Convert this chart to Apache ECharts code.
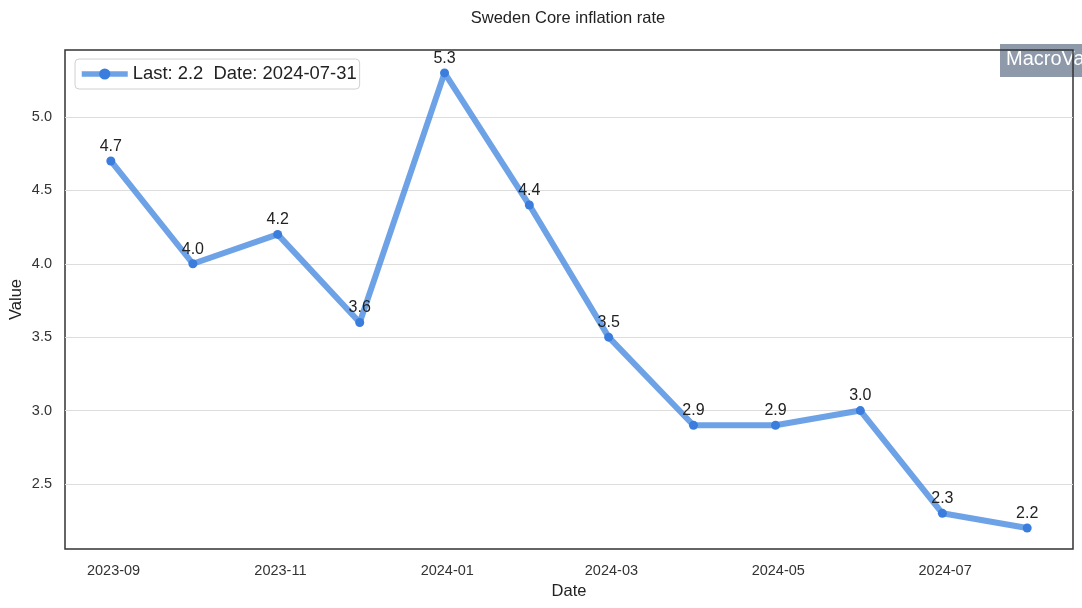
<!DOCTYPE html>
<html>
<head>
<meta charset="utf-8">
<script src="https://cdn.jsdelivr.net/npm/echarts@6/dist/echarts.min.js"></script>
<style>html,body{margin:0;padding:0;background:#fff}#c{width:1082px;height:608px}</style>
</head>
<body>
<div id="c"></div>
<script>
var dates = ['2023-08-31','2023-09-30','2023-10-31','2023-11-30','2023-12-31','2024-01-31','2024-02-29','2024-03-31','2024-04-30','2024-05-31','2024-06-30','2024-07-31'];
var values = [4.7, 4.0, 4.2, 3.6, 5.3, 4.4, 3.5, 2.9, 2.9, 3.0, 2.3, 2.2];
var xTicks = ['2023-09-01','2023-11-01','2024-01-01','2024-03-01','2024-05-01','2024-07-01'];
var yTicks = [2.5, 3.0, 3.5, 4.0, 4.5, 5.0];

function ts(s){ var p = s.split('-'); return Date.UTC(+p[0], +p[1]-1, +p[2]); }
function pad(n){ return (n<10?'0':'')+n; }

var font = 'Liberation Sans, Arial, sans-serif';
var chart = echarts.init(document.getElementById('c'));
var xMin = ts('2023-08-31') - 16.75*86400000;
var xMax = ts('2024-07-31') + 16.75*86400000;

chart.setOption({
  animation: false,
  title: {
    text: 'Sweden Core inflation rate',
    left: 563, top: 5, textAlign: 'center',
    textStyle: {fontFamily: font, fontSize: 16.5, fontWeight: 'normal', color: '#222'}
  },
  legend: {
    left: 75, top: 59,
    padding: [6, 3, 6, 4],
    itemWidth: 46, itemHeight: 14, itemGap: 6,
    borderColor: '#d0d0d0', borderWidth: 1, borderRadius: 4,
    lineStyle: {width: 5.5},
    textStyle: {fontFamily: font, fontSize: 18.4, color: '#222'}
  },
  grid: {
    left: 65, right: 9, top: 50, bottom: 59,
    outerBoundsMode: 'none', containLabel: false,
    show: true, borderColor: '#333', borderWidth: 1.5, backgroundColor: 'transparent'
  },
  xAxis: {
    type: 'value', min: xMin, max: xMax,
    name: 'Date', nameLocation: 'middle', nameGap: 34,
    nameTextStyle: {fontFamily: font, fontSize: 16.5, color: '#222'},
    axisLine: {show: false}, axisTick: {show: false, customValues: xTicks.map(ts)}, splitLine: {show: false},
    axisLabel: {
      customValues: xTicks.map(ts),
      fontFamily: font, fontSize: 14.5, color: '#333', margin: 14,
      formatter: function(v){ var d = new Date(v); return d.getUTCFullYear() + '-' + pad(d.getUTCMonth()+1); }
    }
  },
  yAxis: {
    type: 'value', min: 2.057, max: 5.456,
    name: 'Value', nameLocation: 'middle', nameGap: 40, nameRotate: 90,
    nameMoveOverlap: false,
    nameTextStyle: {fontFamily: font, fontSize: 16.5, color: '#222'},
    axisLine: {show: false},
    axisTick: {show: false, customValues: yTicks},
    splitLine: {show: false},
    axisLabel: {
      customValues: yTicks,
      fontFamily: font, fontSize: 14.5, color: '#333', margin: 13,
      formatter: function(v){ return v.toFixed(1); }
    }
  },
  series: [{
    name: 'Last: ' + values[values.length-1].toFixed(1) + '  Date: ' + dates[dates.length-1],
    type: 'line',
    data: dates.map(function(d, i){ return [ts(d), values[i]]; }),
    symbol: 'circle', symbolSize: 9,
    lineStyle: {color: 'rgba(74,139,224,0.8)', width: 6},
    itemStyle: {color: '#3b7ddd'},
    label: {
      show: true, position: 'top', distance: 2,
      fontFamily: font, fontSize: 16, color: '#222',
      formatter: function(p){ return p.value[1].toFixed(1); }
    },
    markLine: {
      silent: true, symbol: 'none', label: {show: false},
      lineStyle: {color: '#dddddd', width: 1, type: 'solid'},
      data: yTicks.map(function(v){ return {yAxis: v}; }),
      z: 0
    },
    z: 3
  }],
  graphic: [{
    type: 'rect', left: 1000, top: 44, z: -1,
    shape: {width: 100, height: 33},
    style: {fill: '#8e99aa'}
  }, {
    type: 'text', left: 1006, top: 49, z: -1,
    style: {text: 'MacroVar', fill: '#fff', font: '20px ' + font}
  }]
});
</script>
</body>
</html>
